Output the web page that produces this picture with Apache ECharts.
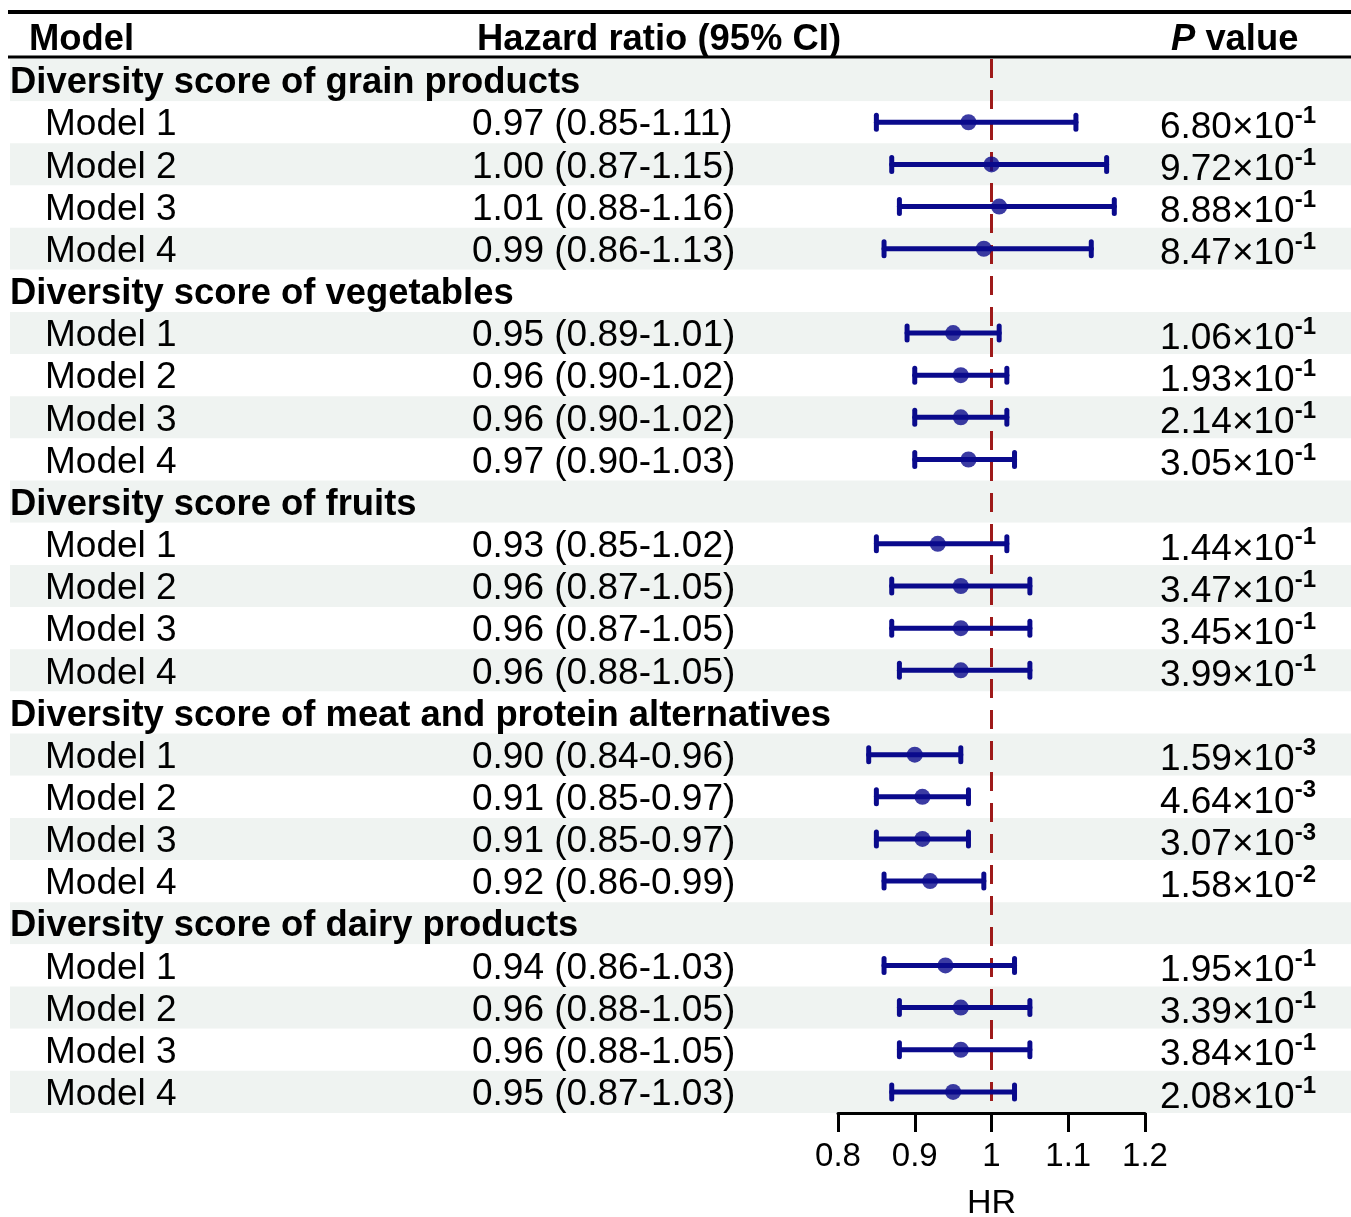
<!DOCTYPE html>
<html>
<head>
<meta charset="utf-8">
<script src="https://cdn.jsdelivr.net/npm/echarts@6/dist/echarts.min.js"></script>
<style>html,body{margin:0;padding:0;background:#fff}#c{width:1351px;height:1217px}</style>
</head>
<body>
<div id="c"></div>
<script>
const rowLabels = [
  'Diversity score of grain products','Model 1','Model 2','Model 3','Model 4',
  'Diversity score of vegetables','Model 1','Model 2','Model 3','Model 4',
  'Diversity score of fruits','Model 1','Model 2','Model 3','Model 4',
  'Diversity score of meat and protein alternatives','Model 1','Model 2','Model 3','Model 4',
  'Diversity score of dairy products','Model 1','Model 2','Model 3','Model 4'
];
const hr =    [null,0.97,1.00,1.01,0.99, null,0.95,0.96,0.96,0.97, null,0.93,0.96,0.96,0.96, null,0.90,0.91,0.91,0.92, null,0.94,0.96,0.96,0.95];
const lower = [null,0.85,0.87,0.88,0.86, null,0.89,0.90,0.90,0.90, null,0.85,0.87,0.87,0.88, null,0.84,0.85,0.85,0.86, null,0.86,0.88,0.88,0.87];
const upper = [null,1.11,1.15,1.16,1.13, null,1.01,1.02,1.02,1.03, null,1.02,1.05,1.05,1.05, null,0.96,0.97,0.97,0.99, null,1.03,1.05,1.05,1.03];
const pMant = [null,'6.80','9.72','8.88','8.47', null,'1.06','1.93','2.14','3.05', null,'1.44','3.47','3.45','3.99', null,'1.59','4.64','3.07','1.58', null,'1.95','3.39','3.84','2.08'];
const pExp =  [null,-1,-1,-1,-1, null,-1,-1,-1,-1, null,-1,-1,-1,-1, null,-3,-3,-3,-2, null,-1,-1,-1,-1];
const xTicks = [0.8, 0.9, 1.0, 1.1, 1.2];
const refValue = 1;

const FONT = 'Liberation Sans, Arial, sans-serif';
const FS = 37;
const FSB = 36.4;
const NAVY = '#0a0a8c';
const RED = '#9e1a1a';
const rowIdx = rowLabels.map((_, i) => String(i));
const fmtHR = v => v.toFixed(2);

const chart = echarts.init(document.getElementById('c'));
const option = {
  backgroundColor: '#fff',
  animation: false,
  textStyle: { fontFamily: FONT },
  title: [
    { text: 'Model', left: 24, top: 17, textStyle: { fontFamily: FONT, fontSize: FSB, fontWeight: 'bold', color: '#000' } },
    { text: 'Hazard ratio (95% CI)', left: 472, top: 17, textStyle: { fontFamily: FONT, fontSize: FSB, fontWeight: 'bold', color: '#000' } },
    { text: '{i|P}{v| value}', left: 1166, top: 17, textStyle: { fontFamily: FONT, fontSize: FSB, color: '#000',
        rich: { i: { fontFamily: FONT, fontSize: FSB, fontStyle: 'italic', color: '#000' },
                v: { fontFamily: FONT, fontSize: FSB, fontWeight: 'bold', color: '#000' } } } }
  ],
  graphic: [
    { type: 'line', shape: { x1: 8, y1: 12, x2: 1351, y2: 12 }, style: { stroke: '#000', lineWidth: 4 } },
    { type: 'line', shape: { x1: 8, y1: 57, x2: 1351, y2: 57 }, style: { stroke: '#000', lineWidth: 3 } }
  ],
  grid: [
    { left: 10, right: 0, top: 59, bottom: 104, containLabel: false, outerBoundsMode: 'none' },
    { left: 838, right: 206, top: 59, bottom: 104, containLabel: false, outerBoundsMode: 'none' }
  ],
  xAxis: [
    { gridIndex: 0, type: 'value', min: 0, max: 1, show: false },
    { gridIndex: 1, type: 'value', min: 0.8, max: 1.2, interval: 0.1,
      axisLine: { show: true, lineStyle: { color: '#000', width: 3 } },
      axisTick: { show: true, length: 19, lineStyle: { color: '#000', width: 3 } },
      splitLine: { show: false },
      axisLabel: { margin: 27, fontSize: 33, color: '#000', fontFamily: FONT,
        formatter: v => { const t = xTicks.find(x => Math.abs(x - v) < 1e-6); return t === undefined ? '' : String(+t.toFixed(1)); } },
      name: 'HR', nameLocation: 'middle', nameGap: 74,
      nameTextStyle: { fontSize: 34, color: '#000', fontFamily: FONT }
    }
  ],
  yAxis: [
    { gridIndex: 0, type: 'category', inverse: true, data: rowIdx, position: 'left',
      axisLine: { show: false }, axisTick: { show: false }, splitLine: { show: false },
      splitArea: { show: true, areaStyle: { color: ['#eff3f1', '#ffffff'] } },
      axisLabel: { inside: true, margin: 0, interval: 0, padding: [6, 0, 0, 0],
        formatter: v => { const i = +v; return hr[i] == null ? '{h|' + rowLabels[i] + '}' : '{m|' + rowLabels[i] + '}'; },
        rich: {
          h: { fontFamily: FONT, fontSize: FSB, fontWeight: 'bold', color: '#000' },
          m: { fontFamily: FONT, fontSize: FS, color: '#000', padding: [0, 0, 0, 35] }
        }
      }
    },
    { gridIndex: 0, type: 'category', inverse: true, data: rowIdx, position: 'left',
      axisLine: { show: false }, axisTick: { show: false }, splitLine: { show: false },
      axisLabel: { inside: true, margin: 462, interval: 0, padding: [6, 0, 0, 0],
        formatter: v => { const i = +v; return hr[i] == null ? '' : '{t|' + fmtHR(hr[i]) + ' (' + fmtHR(lower[i]) + '-' + fmtHR(upper[i]) + ')}'; },
        rich: { t: { fontFamily: FONT, fontSize: FS, color: '#000' } } }
    },
    { gridIndex: 0, type: 'category', inverse: true, data: rowIdx, position: 'right',
      axisLine: { show: false }, axisTick: { show: false }, splitLine: { show: false },
      axisLabel: { inside: true, margin: 35, interval: 0, padding: [6, 0, 0, 0],
        formatter: v => { const i = +v; return pMant[i] == null ? '' : '{b|' + pMant[i] + '×10}{s|' + pExp[i] + '}'; },
        rich: {
          b: { fontFamily: FONT, fontSize: FS, color: '#000', lineHeight: 42, verticalAlign: 'bottom' },
          s: { fontFamily: FONT, fontSize: 24, fontWeight: 'bold', color: '#000', verticalAlign: 'top', lineHeight: 42 }
        }
      }
    },
    { gridIndex: 1, type: 'category', inverse: true, data: rowIdx, show: false }
  ],
  series: [
    { type: 'custom', xAxisIndex: 1, yAxisIndex: 3,
      data: rowIdx.map((r, i) => [lower[i], upper[i], i]).filter(d => d[0] != null),
      renderItem: (params, api) => {
        const a = api.coord([api.value(0), api.value(2)]);
        const b = api.coord([api.value(1), api.value(2)]);
        const cap = 7;
        const st = { stroke: NAVY, lineWidth: 5, lineCap: 'round' };
        return { type: 'group', children: [
          { type: 'line', shape: { x1: a[0], y1: a[1], x2: b[0], y2: b[1] }, style: st },
          { type: 'line', shape: { x1: a[0], y1: a[1] - cap, x2: a[0], y2: a[1] + cap }, style: st },
          { type: 'line', shape: { x1: b[0], y1: b[1] - cap, x2: b[0], y2: b[1] + cap }, style: st }
        ]};
      },
      z: 3
    },
    { type: 'scatter', xAxisIndex: 1, yAxisIndex: 3, symbol: 'circle', symbolSize: 16,
      itemStyle: { color: NAVY },
      data: rowIdx.map((r, i) => [hr[i], i]).filter(d => d[0] != null),
      z: 4,
      markLine: { silent: true, symbol: 'none', label: { show: false }, z: 2,
        lineStyle: { color: RED, width: 3, type: [19, 12] },
        data: [{ xAxis: refValue }] }
    }
  ]
};
chart.setOption(option);
</script>
</body>
</html>
